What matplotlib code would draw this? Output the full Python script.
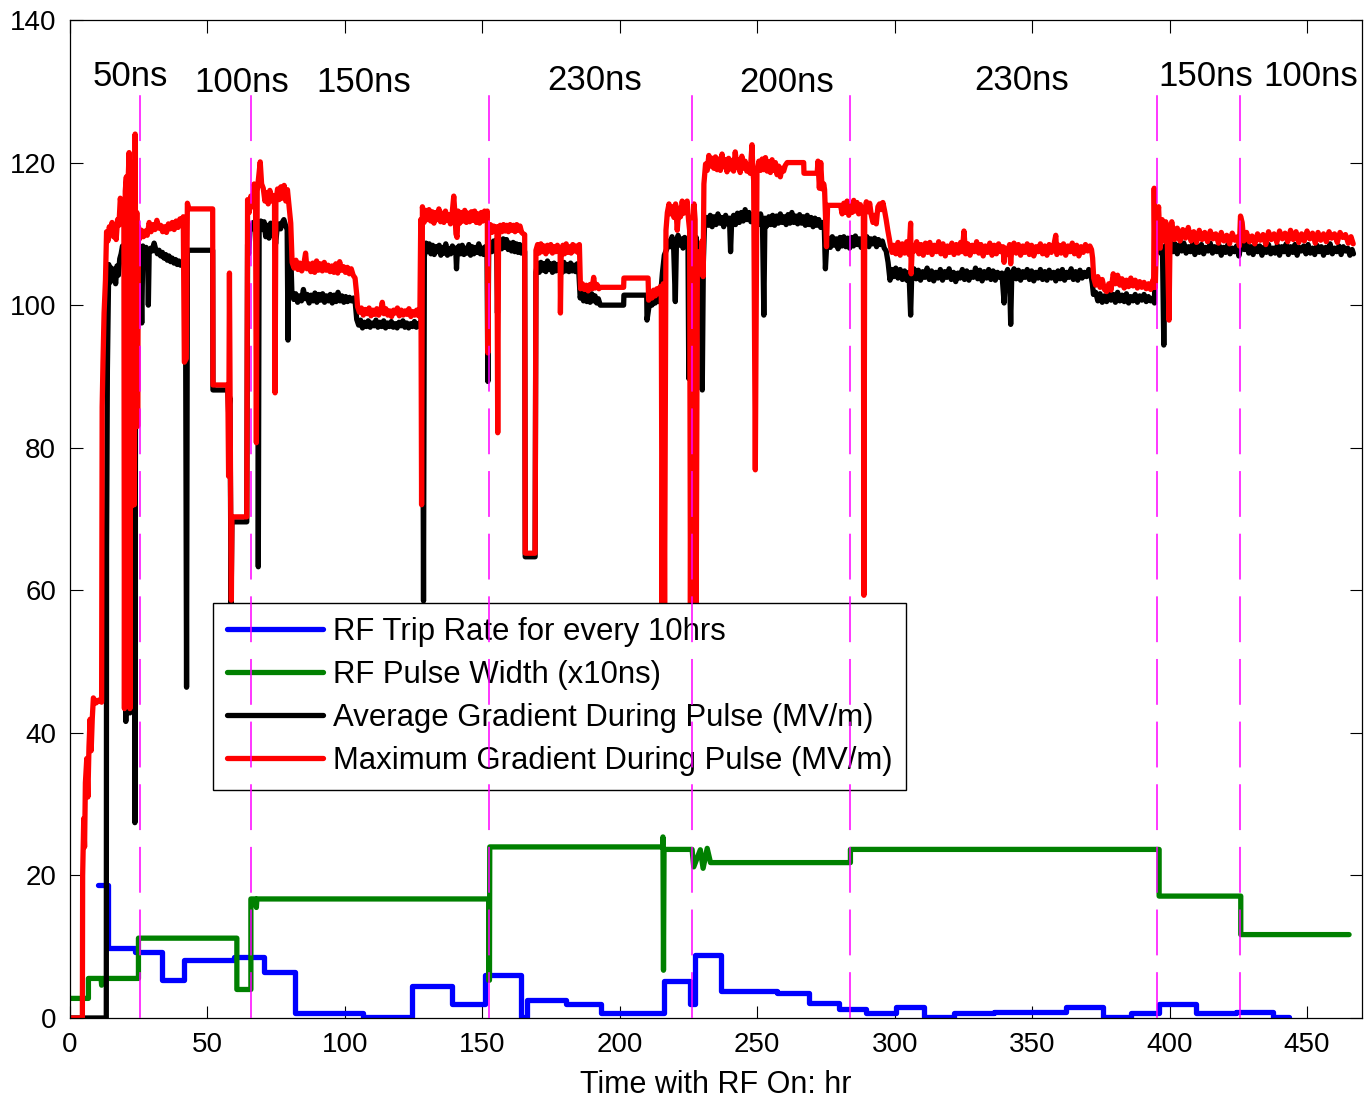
import matplotlib
matplotlib.use("Agg")
import matplotlib.pyplot as plt

plt.rcParams['font.family'] = ['Liberation Sans', 'DejaVu Sans']

# ---------------- data ----------------
# RF trip rate (steps-post): breakpoints (hr) and values
trip_x = [10.3, 13.9, 23.7, 33.4, 41.3, 59.5, 70.4, 81.9, 106.7, 124.4, 138.9, 151.1,
          164.0, 166.2, 180.6, 193.2, 216.0, 225.7, 227.5, 236.9, 257.3, 268.8, 279.7,
          289.4, 300.3, 310.6, 321.6, 336.1, 362.2, 375.6, 385.9, 396.2, 409.5, 424.1,
          437.5, 443.5]
trip_y = [18.7, 9.8, 9.2, 5.4, 8.1, 8.5, 6.5, 0.75, 0.2, 4.5, 1.9, 6.1,
          0.1, 2.5, 1.9, 0.65, 5.2, 1.9, 8.8, 3.8, 3.5, 2.1, 1.2,
          0.65, 1.5, 0.2, 0.65, 0.9, 1.5, 0.2, 0.65, 1.9, 0.65, 0.9,
          0.2, 0.2]

# RF pulse width (x10 ns)
pw_x = [0, 6.7, 6.7, 11.3, 11.5, 11.7, 24.9, 24.9, 60.7, 60.7, 65.8, 65.8, 67.6, 67.8, 68.0,
        152.3, 152.3, 152.6, 152.7, 215.6, 215.7, 215.9, 216.1, 226.3, 226.9, 229.3,
        230.3, 231.8, 233.0, 283.9, 283.9, 396.2, 396.2, 425.9, 425.9, 465.3]
pw_y = [2.75, 2.75, 5.55, 5.55, 4.6, 5.55, 5.55, 11.2, 11.2, 4.0, 4.0, 16.7, 16.7, 15.5, 16.7,
        16.7, 5.3, 5.3, 24.0, 24.0, 25.4, 6.7, 23.65, 23.65, 21.2, 23.6,
        21.0, 23.8, 21.8, 21.8, 23.65, 23.65, 17.1, 17.1, 11.7, 11.7]

# Average gradient during pulse (MV/m)
avg_pts = [
    (0, 0), (13.2, 0), (13.3, 66), (13.6, 90.9), (14.1, 105.7), (14.6, 103.2), (15.1, 105.2),
    (15.6, 103.6), (16.1, 105.0), (16.6, 103.0), (17.1, 105.5), (17.6, 104.2), (18.1, 106.5),
    (18.6, 107.2), (19.1, 108.3), (19.6, 107.0), (20.0, 108.4), (20.3, 41.6), (20.6, 107.8),
    (21.2, 108.5), (21.8, 42.8), (22.1, 107.6), (22.7, 108.2), (23.3, 107.0), (23.6, 27.4),
    (23.9, 107.5), (24.5, 106.8), (25.0, 107.9), (25.6, 108.2), (26.1, 97.5), (26.5, 108.3),
    (27.1, 107.6), (27.7, 108.1), (28.2, 107.4), (28.5, 100.0), (28.8, 107.3), (29.4, 108.0),
    (30.0, 107.6), (30.6, 108.7), (31.2, 107.8), (31.8, 107.2), (32.4, 107.7), (33.0, 106.9),
    (33.6, 107.4), (34.2, 106.6), (34.8, 107.1), (35.4, 106.3), (36.0, 106.9), (36.6, 106.1),
    (37.2, 106.6), (37.8, 105.9), (38.4, 106.4), (39.0, 105.7), (39.6, 106.2), (40.2, 105.6),
    (40.8, 106.0), (41.4, 105.5), (42.0, 105.8), (42.4, 46.4), (42.7, 107.7), (51.9, 107.7),
    (52.0, 88.1), (57.4, 88.1), (57.7, 85), (58.2, 87), (58.6, 58), (58.9, 69.6), (64.3, 69.6),
    (64.6, 108.5), (65.0, 107.2), (65.5, 110.6), (66.1, 110.9), (66.7, 111.6), (67.3, 110.5),
    (67.9, 111.3), (68.3, 110.6), (68.5, 63.3), (68.8, 110.9), (69.4, 111.8), (70.0, 110.6),
    (70.6, 111.7), (71.2, 109.6), (71.8, 111.2), (72.4, 109.4), (73.0, 111.5), (73.6, 110.5),
    (74.2, 111.2), (74.8, 108.6), (75.4, 111.0), (76.0, 111.4), (76.6, 110.7), (77.2, 111.6),
    (77.8, 112.0), (78.4, 111.2), (79.0, 110.6), (79.3, 95.1), (79.6, 110.2), (80.2, 108.5),
    (80.7, 102.0), (81.4, 100.8), (82.1, 101.6), (82.8, 100.4), (83.5, 101.3), (84.2, 100.6),
    (84.9, 102.2), (85.6, 100.9), (86.3, 101.5), (87.0, 100.3), (87.7, 101.4), (88.4, 100.6),
    (89.1, 101.7), (89.8, 100.4), (90.5, 101.5), (91.2, 100.7), (91.9, 101.6), (92.6, 100.4),
    (93.3, 101.3), (94.0, 100.6), (94.7, 101.5), (95.4, 100.3), (96.1, 101.4), (96.8, 100.5),
    (97.5, 101.8), (98.2, 100.6), (98.9, 101.3), (99.6, 100.4), (100.3, 101.2), (101.0, 100.5),
    (101.7, 101.1), (102.4, 100.6), (103.1, 101.0), (103.8, 100.2), (104.3, 98.0), (105.0, 97.2),
    (105.7, 97.9), (106.4, 96.8), (107.1, 97.6), (107.8, 97.0), (108.5, 97.8), (109.2, 96.9),
    (109.9, 97.5), (110.6, 97.1), (111.3, 97.9), (112.0, 96.9), (112.7, 97.6), (113.4, 97.0),
    (114.1, 97.8), (114.8, 96.8), (115.5, 97.5), (116.2, 97.0), (116.9, 97.7), (117.6, 96.9),
    (118.3, 97.4), (119.0, 96.8), (119.7, 97.6), (120.4, 97.1), (121.1, 97.8), (121.8, 96.9),
    (122.5, 97.5), (123.2, 96.8), (123.9, 97.4), (124.6, 97.0), (125.3, 97.7), (126.0, 96.9),
    (126.7, 97.4), (127.3, 97.0), (127.8, 98.0), (128.3, 97.0), (128.6, 58.5), (128.9, 106.8),
    (129.5, 108.7), (130.1, 107.5), (130.7, 108.6), (131.3, 107.2), (131.9, 108.4), (132.5, 107.1),
    (133.1, 108.2), (133.7, 107.5), (134.3, 108.4), (134.9, 107.0), (135.5, 108.1), (136.1, 107.3),
    (136.7, 108.6), (137.3, 107.0), (137.9, 107.9), (138.5, 107.2), (139.1, 108.3), (139.7, 107.4),
    (140.3, 108.0), (140.6, 105.1), (140.9, 107.6), (141.5, 108.3), (142.1, 107.2), (142.7, 108.4),
    (143.3, 107.1), (143.9, 108.0), (144.5, 107.3), (145.1, 108.5), (145.7, 107.0), (146.3, 108.2),
    (146.9, 107.2), (147.5, 108.1), (148.1, 107.4), (148.7, 108.6), (149.3, 107.2), (149.9, 108.0),
    (150.5, 107.1), (151.1, 108.2), (151.7, 107.3), (152.0, 89.3), (152.3, 108.0), (152.9, 108.8),
    (153.5, 107.5), (154.1, 109.0), (154.7, 108.0), (155.2, 109.2), (155.5, 98.9), (155.8, 108.5),
    (156.4, 109.0), (157.0, 107.9), (157.6, 109.3), (158.2, 108.1), (158.8, 109.2), (159.4, 107.8),
    (160.0, 108.7), (160.6, 107.6), (161.2, 108.8), (161.8, 107.5), (162.4, 108.6), (163.0, 107.4),
    (163.6, 108.5), (164.2, 107.3), (164.8, 108.2), (165.4, 107.5), (165.6, 64.7), (169.2, 64.7),
    (169.5, 104.6), (170.1, 105.9), (170.7, 104.6), (171.3, 106.0), (171.9, 104.9), (172.5, 105.8),
    (173.1, 104.7), (173.7, 106.2), (174.3, 105.0), (174.9, 105.8), (175.5, 104.6), (176.1, 105.9),
    (176.7, 104.8), (177.3, 105.7), (177.9, 104.9), (178.5, 105.8), (179.1, 104.6), (179.7, 106.0),
    (180.3, 104.8), (180.9, 105.7), (181.5, 104.7), (182.1, 105.9), (182.7, 104.8), (183.3, 105.6),
    (183.9, 104.7), (184.5, 105.8), (185.1, 104.6), (185.6, 101.0), (186.2, 102.2), (186.8, 100.6),
    (187.4, 101.8), (188.0, 100.5), (188.6, 101.5), (189.2, 100.4), (189.8, 101.6), (190.4, 100.6),
    (191.0, 101.3), (191.6, 100.3), (192.2, 100.9), (192.9, 100.0), (201.4, 100.0), (201.5, 101.4),
    (209.8, 101.4), (209.9, 97.9), (210.5, 99.5), (211.1, 100.6), (211.7, 100.0), (212.3, 100.9),
    (212.9, 100.3), (213.5, 101.0), (214.1, 100.5), (214.8, 101.2), (215.5, 104.5), (216.2, 107.0),
    (217.2, 108.0), (217.8, 109.0), (218.4, 108.2), (219.0, 109.6), (219.6, 108.0), (220.2, 100.5),
    (220.6, 108.6), (221.2, 109.8), (221.8, 108.4), (222.4, 109.3), (223.0, 108.0), (223.6, 109.5),
    (224.2, 108.3), (224.8, 109.0), (225.1, 89.7), (225.4, 108.0), (226.0, 106.5), (226.6, 108.8),
    (227.2, 107.3), (227.8, 109.5), (228.4, 106.0), (229.0, 108.0), (229.6, 105.5), (230.0, 88.1),
    (230.4, 106.0), (230.8, 111.0), (231.5, 112.3), (232.2, 111.2), (232.9, 112.6), (233.6, 111.0),
    (234.3, 112.4), (235.0, 111.3), (235.7, 112.8), (236.4, 111.5), (237.1, 112.3), (237.8, 111.0),
    (238.5, 112.6), (239.2, 111.4), (239.9, 112.2), (240.3, 107.5), (240.7, 111.8), (241.4, 112.6),
    (242.1, 111.3), (242.8, 112.9), (243.5, 111.6), (244.2, 113.0), (244.9, 111.8), (245.6, 113.4),
    (246.3, 112.0), (247.0, 113.0), (247.7, 111.7), (248.4, 112.7), (249.1, 111.5), (249.8, 112.6),
    (250.5, 111.3), (251.2, 112.8), (251.9, 111.6), (252.4, 98.6), (252.8, 112.2), (253.5, 111.1),
    (254.2, 112.4), (254.9, 111.3), (255.6, 112.6), (256.3, 111.2), (257.0, 112.5), (257.7, 111.5),
    (258.4, 112.8), (259.1, 111.6), (259.8, 112.4), (260.5, 111.3), (261.2, 112.7), (261.9, 111.5),
    (262.6, 113.0), (263.3, 111.6), (264.0, 112.5), (264.7, 111.4), (265.4, 112.7), (266.1, 111.5),
    (266.8, 112.4), (267.5, 111.2), (268.2, 112.6), (268.9, 111.3), (269.6, 112.3), (270.3, 111.0),
    (271.0, 112.2), (271.7, 111.2), (272.4, 112.0), (273.1, 110.9), (273.8, 111.6), (274.4, 110.8),
    (274.8, 105.1), (275.2, 108.0), (275.9, 109.4), (276.6, 108.1), (277.3, 109.6), (278.0, 108.4),
    (278.7, 109.3), (279.4, 107.9), (280.1, 109.5), (280.8, 108.3), (281.5, 109.6), (282.2, 108.2),
    (282.9, 109.4), (283.6, 108.0), (284.3, 109.5), (285.0, 108.3), (285.7, 109.7), (286.4, 108.5),
    (287.1, 109.3), (287.8, 108.1), (288.5, 109.5), (289.2, 108.4), (289.9, 109.6), (290.6, 108.2),
    (291.3, 109.3), (292.0, 108.6), (292.7, 109.4), (293.4, 108.2), (294.1, 109.2), (294.8, 108.5),
    (295.5, 109.0), (296.2, 108.0), (296.9, 107.6), (297.6, 106.0), (298.3, 103.5), (299.0, 105.0),
    (299.6, 104.0), (300.4, 105.2), (301.2, 103.8), (302.0, 105.0), (302.8, 103.6), (303.6, 104.8),
    (304.4, 103.5), (305.2, 104.6), (305.8, 98.6), (306.2, 104.2), (307.0, 105.1), (307.8, 103.7),
    (308.6, 104.9), (309.4, 103.5), (310.2, 104.7), (311.0, 103.9), (311.8, 105.2), (312.6, 103.6),
    (313.4, 104.8), (314.2, 103.4), (315.0, 104.6), (315.8, 103.8), (316.6, 105.0), (317.4, 103.5),
    (318.2, 104.7), (319.0, 103.9), (319.8, 105.1), (320.6, 103.6), (321.4, 104.6), (322.2, 103.3),
    (323.0, 104.5), (323.8, 103.8), (324.6, 105.0), (325.4, 103.6), (326.2, 104.8), (327.0, 103.5),
    (327.8, 104.6), (328.6, 103.9), (329.4, 105.2), (330.2, 103.7), (331.0, 104.9), (331.8, 103.4),
    (332.6, 104.7), (333.4, 103.8), (334.2, 105.0), (335.0, 103.6), (335.8, 104.8), (336.6, 103.5),
    (337.4, 104.6), (338.2, 103.9), (339.0, 104.5), (339.8, 100.3), (340.3, 104.2), (341.1, 105.0),
    (341.8, 103.6), (342.2, 97.3), (342.6, 104.3), (343.4, 105.1), (344.2, 103.7), (345.0, 104.9),
    (345.8, 103.5), (346.6, 104.7), (347.4, 103.9), (348.2, 105.0), (349.0, 103.6), (349.8, 104.8),
    (350.6, 103.4), (351.4, 104.6), (352.2, 103.8), (353.0, 105.0), (353.8, 103.6), (354.6, 104.7),
    (355.4, 103.5), (356.2, 104.9), (357.0, 103.8), (357.8, 104.6), (358.6, 103.4), (359.4, 104.8),
    (360.2, 103.7), (361.0, 105.0), (361.8, 103.5), (362.6, 104.6), (363.4, 103.9), (364.2, 105.1),
    (365.0, 103.6), (365.8, 104.7), (366.6, 103.5), (367.4, 104.9), (368.2, 103.8), (369.0, 104.6),
    (369.8, 104.0), (370.6, 105.0), (371.4, 104.2), (371.9, 103.0), (372.3, 101.5), (373.1, 101.8),
    (373.9, 100.6), (374.7, 101.6), (375.5, 100.4), (376.3, 101.3), (377.1, 100.5), (377.9, 101.7),
    (378.7, 100.7), (379.5, 101.5), (380.3, 100.4), (381.1, 101.8), (381.9, 100.6), (382.7, 101.4),
    (383.5, 100.5), (384.3, 101.6), (385.1, 100.3), (385.9, 101.2), (386.7, 100.6), (387.5, 101.5),
    (388.3, 100.4), (389.1, 101.3), (389.9, 100.7), (390.7, 101.5), (391.5, 100.5), (392.3, 101.2),
    (393.1, 100.6), (393.9, 101.0), (394.5, 100.3), (394.8, 108.5), (395.4, 107.5), (396.1, 108.8),
    (396.8, 107.3), (397.4, 108.2), (397.9, 94.4), (398.3, 107.8), (399.0, 108.6), (399.7, 107.4),
    (400.4, 108.8), (401.2, 107.5), (402.0, 108.6), (402.8, 107.2), (403.6, 108.4), (404.4, 107.6),
    (405.2, 108.7), (406.0, 107.3), (406.8, 108.2), (407.6, 107.5), (408.4, 108.6), (409.2, 107.1),
    (410.0, 108.3), (410.8, 107.4), (411.6, 108.5), (412.4, 107.2), (413.2, 108.1), (414.0, 107.6),
    (414.8, 108.7), (415.6, 107.3), (416.4, 108.2), (417.2, 107.5), (418.0, 108.4), (418.8, 107.0),
    (419.6, 108.1), (420.4, 107.4), (421.2, 108.5), (422.0, 107.2), (422.8, 108.0), (423.6, 107.5),
    (424.4, 108.3), (425.2, 106.9), (425.8, 108.0), (426.5, 109.3), (427.2, 107.8), (428.0, 108.6),
    (428.8, 107.3), (429.6, 108.2), (430.4, 107.1), (431.2, 108.4), (432.0, 107.5), (432.8, 108.3),
    (433.6, 107.0), (434.4, 108.1), (435.2, 107.4), (436.0, 108.5), (436.8, 107.2), (437.6, 108.0),
    (438.4, 107.3), (439.2, 108.4), (440.0, 107.0), (440.8, 108.2), (441.6, 107.5), (442.4, 108.6),
    (443.2, 107.1), (444.0, 108.2), (444.8, 107.4), (445.6, 108.5), (446.4, 107.0), (447.2, 108.1),
    (448.0, 107.6), (448.8, 108.3), (449.6, 107.2), (450.4, 108.5), (451.2, 107.3), (452.0, 108.0),
    (452.8, 107.1), (453.6, 108.4), (454.4, 107.5), (455.2, 108.2), (456.0, 107.0), (456.8, 108.1),
    (457.6, 107.4), (458.4, 108.6), (459.2, 107.2), (460.0, 108.0), (460.8, 107.5), (461.6, 108.3),
    (462.4, 107.1), (463.2, 108.2), (464.0, 107.6), (464.8, 108.0), (465.6, 107.0), (466.4, 107.8),
    (466.9, 107.2),
]

# Maximum gradient during pulse (MV/m)
max_pts = [
    (0, 0), (4.5, 0), (4.6, 20), (5.0, 28), (5.3, 24), (5.6, 33), (6.1, 36.4), (6.5, 31), (6.9, 38),
    (7.3, 41.9), (7.7, 37.5), (8.1, 42), (8.5, 44.9), (9.5, 44.2), (10.5, 44.6), (11.5, 44.3),
    (11.7, 85.7), (12.0, 92), (12.4, 98.9), (12.9, 103.5), (13.3, 110.3), (13.8, 109), (14.3, 111),
    (14.8, 110), (15.3, 111.6), (15.8, 109.6), (16.3, 110.8), (16.8, 109.2), (17.3, 112), (17.8, 111.2),
    (18.3, 115), (18.8, 113.5), (19.3, 114.5), (19.6, 113), (19.8, 43.4), (20.1, 116), (20.5, 118),
    (20.8, 44), (21.1, 117), (21.5, 121.4), (21.8, 43.4), (22.1, 118), (22.4, 71.8), (22.8, 120),
    (23.2, 116), (23.4, 72), (23.7, 124), (24.0, 84), (24.3, 113), (24.6, 83), (24.9, 111),
    (25.3, 109.3), (26.0, 110.5), (26.7, 109.6), (27.4, 110.4), (28.1, 109.8), (28.8, 111.6),
    (29.5, 110.3), (30.2, 111.3), (30.9, 110.6), (31.6, 111.9), (32.3, 110.8), (33.0, 111.2),
    (33.7, 110.3), (34.4, 111.0), (35.1, 110.2), (35.8, 111.4), (36.5, 110.7), (37.2, 111.6),
    (37.9, 110.6), (38.6, 111.8), (39.3, 110.9), (40.0, 112.1), (40.6, 111.3), (41.2, 112.4),
    (41.6, 92), (42.3, 92.5), (42.7, 114.3), (43.3, 113.5), (51.9, 113.5), (52.0, 88.8), (57.4, 88.8),
    (57.7, 76), (58.0, 104.5), (58.4, 75), (58.7, 58.6), (58.9, 70.3), (64.3, 70.3), (64.6, 114.8),
    (65.2, 113), (65.8, 115.3), (66.4, 113.8), (67.0, 117), (67.5, 115.6), (67.8, 80.7), (68.1, 116),
    (68.7, 118.2), (69.2, 120.1), (69.7, 117), (70.3, 116.4), (70.9, 114.6), (71.5, 115.8),
    (72.1, 114.2), (72.7, 116.1), (73.3, 114.6), (73.9, 115.4), (74.4, 114.3), (74.6, 87.7),
    (74.9, 114.5), (75.5, 116.3), (76.1, 114.8), (76.7, 116.6), (77.3, 115), (77.9, 116.8),
    (78.5, 114.6), (79.1, 116.2), (79.7, 113.8), (80.3, 111.5), (80.8, 106), (81.5, 105.2),
    (82.2, 106.3), (82.9, 105.0), (83.6, 105.9), (84.3, 104.8), (85.0, 105.6), (85.7, 107.3),
    (86.2, 105.1), (86.9, 105.8), (87.6, 104.7), (88.3, 105.9), (89.0, 104.6), (89.7, 106.2),
    (90.4, 104.9), (91.1, 105.8), (91.8, 104.8), (92.5, 106.0), (93.2, 104.9), (93.9, 105.6),
    (94.6, 104.7), (95.3, 105.5), (96.0, 104.6), (96.7, 105.8), (97.4, 104.5), (98.1, 106.1),
    (98.8, 104.9), (99.5, 105.4), (100.2, 104.6), (100.9, 105.3), (101.6, 104.4), (102.3, 105.1),
    (103.0, 104.2), (103.7, 103.8), (104.3, 101.5), (104.6, 99.8), (105.3, 99.0), (106.0, 99.6),
    (106.7, 98.6), (107.4, 99.4), (108.1, 98.8), (108.8, 99.6), (109.5, 98.5), (110.2, 99.3),
    (110.9, 98.7), (111.6, 99.5), (112.3, 98.6), (113.0, 99.2), (113.6, 100.4), (114.2, 98.8),
    (114.9, 99.5), (115.6, 98.6), (116.3, 99.2), (117.0, 98.4), (117.7, 99.3), (118.4, 98.9),
    (119.1, 99.6), (119.8, 98.5), (120.5, 99.3), (121.2, 98.6), (121.9, 99.2), (122.6, 98.7),
    (123.3, 99.5), (124.0, 98.4), (124.7, 99.1), (125.4, 98.6), (126.1, 99.3), (126.8, 98.5),
    (127.3, 99.6), (127.6, 112), (127.9, 72), (128.2, 113.8), (128.8, 111.6), (129.4, 113.3),
    (130.0, 112.0), (130.6, 113.4), (131.2, 111.8), (131.8, 113.1), (132.4, 111.5), (133.0, 113.0),
    (133.6, 112.0), (134.2, 113.5), (134.8, 111.7), (135.4, 112.9), (136.0, 111.6), (136.6, 113.2),
    (137.2, 111.9), (137.8, 112.7), (138.4, 111.4), (139.0, 112.8), (139.6, 115.3), (140.1, 112.4),
    (140.4, 110), (140.8, 109.5), (141.2, 113.2), (141.8, 111.5), (142.4, 113.0), (143.0, 111.8),
    (143.6, 113.3), (144.2, 111.6), (144.8, 112.9), (145.4, 111.7), (146.0, 113.1), (146.6, 111.9),
    (147.2, 113.2), (147.8, 111.6), (148.4, 112.8), (149.0, 111.5), (149.6, 113.0), (150.2, 111.8),
    (150.8, 113.2), (151.4, 112.0), (151.8, 113.2), (152.0, 93.3), (152.3, 111.0), (152.9, 111.3),
    (153.5, 110.2), (154.1, 111.1), (154.7, 110.4), (155.3, 111.0), (155.6, 82.1), (155.9, 110.5),
    (156.5, 111.2), (157.1, 110.3), (157.7, 111.3), (158.3, 110.4), (158.9, 111.2), (159.5, 110.3),
    (160.1, 111.3), (160.7, 110.5), (161.3, 111.2), (161.9, 110.3), (162.5, 111.3), (163.1, 110.5),
    (163.7, 111.1), (164.3, 110.2), (164.9, 110.0), (165.4, 109.9), (165.6, 65.2), (169.2, 65.2),
    (169.5, 107.7), (170.1, 108.5), (170.7, 107.3), (171.3, 108.6), (171.9, 107.5), (172.5, 108.3),
    (173.1, 107.2), (173.7, 108.4), (174.3, 107.6), (174.9, 108.5), (175.5, 107.3), (176.1, 108.2),
    (176.7, 107.5), (177.3, 108.4), (177.9, 107.6), (178.3, 108.0), (178.4, 98.9), (178.7, 107.5),
    (179.3, 108.4), (179.9, 107.2), (180.5, 108.6), (181.1, 107.4), (181.7, 108.2), (182.3, 107.3),
    (182.9, 108.5), (183.5, 107.6), (184.1, 108.3), (184.7, 107.4), (185.3, 108.5), (185.7, 102.3),
    (186.4, 103.0), (187.1, 102.2), (187.8, 102.8), (188.5, 102.0), (189.2, 102.9), (189.9, 102.3),
    (190.5, 103.9), (191.0, 102.4), (191.7, 102.9), (192.4, 102.3), (192.9, 102.5), (201.4, 102.5),
    (201.5, 103.8), (210.3, 103.8), (210.5, 100.7), (211.1, 101.8), (211.7, 101.0), (212.3, 102.1),
    (212.9, 101.3), (213.5, 102.3), (214.1, 101.6), (214.7, 102.6), (215.1, 102.0), (215.4, 58.0),
    (215.8, 103.0), (216.3, 58.0), (216.8, 110.5), (217.3, 113.0), (217.9, 114.2), (218.5, 112.8),
    (219.1, 113.8), (219.7, 112.3), (220.3, 114.2), (220.9, 110.5), (221.5, 113.6), (222.1, 112.4),
    (222.7, 114.6), (223.3, 112.9), (223.9, 113.9), (224.5, 114.6), (225.0, 112.0), (225.4, 110.5),
    (225.7, 58.0), (226.1, 106.0), (226.6, 110.5), (227.0, 114.2), (227.4, 112.0), (227.8, 58.0),
    (228.2, 104.0), (228.8, 107.5), (229.4, 105.0), (229.9, 109.0), (230.3, 104.0), (230.6, 117.0),
    (231.2, 119.8), (231.8, 118.9), (232.4, 121.0), (233.0, 119.5), (233.6, 120.6), (234.2, 119.2),
    (234.8, 120.8), (235.4, 119.0), (236.0, 120.5), (236.6, 118.9), (237.2, 121.2), (237.8, 119.4),
    (238.4, 120.4), (239.0, 118.7), (239.6, 120.6), (240.2, 119.1), (240.8, 120.3), (241.4, 118.8),
    (242.0, 121.5), (242.6, 119.3), (243.2, 120.4), (243.8, 118.6), (244.4, 120.9), (245.0, 119.2),
    (245.6, 120.2), (246.2, 118.8), (246.8, 119.6), (247.4, 118.5), (248.1, 122.5), (248.4, 119.0),
    (248.7, 117.5), (249.3, 76.9), (249.9, 118.6), (250.6, 120.2), (251.2, 118.9), (251.8, 120.5),
    (252.4, 119.0), (253.0, 120.7), (253.6, 118.8), (254.2, 120.1), (254.8, 118.6), (255.4, 120.4),
    (256.0, 118.9), (256.6, 120.0), (257.2, 118.3), (257.8, 119.5), (258.4, 118.0), (259.0, 119.2),
    (259.6, 118.8), (260.2, 119.6), (260.9, 120.0), (266.9, 120.0), (267.0, 118.5), (271.8, 118.5),
    (272.1, 120.2), (272.6, 116.4), (273.1, 120.0), (273.6, 116.3), (274.2, 117.0), (274.5, 116.2),
    (275.2, 108.2), (275.6, 114.0), (280.3, 114.0), (280.9, 112.8), (281.5, 114.3), (282.1, 113.0),
    (282.7, 114.6), (283.3, 112.6), (283.9, 114.0), (284.5, 113.0), (285.1, 114.7), (285.7, 113.2),
    (286.3, 114.4), (286.9, 112.8), (287.5, 114.1), (288.1, 113.0), (288.6, 113.6), (288.8, 59.3),
    (289.1, 113.2), (289.7, 114.5), (290.3, 113.1), (290.9, 114.3), (291.5, 112.6), (292.1, 111.6),
    (292.7, 112.6), (293.3, 111.4), (293.9, 113.8), (294.5, 114.2), (295.1, 113.4), (295.7, 114.4),
    (296.3, 113.3), (296.9, 112.0), (297.5, 110.5), (298.1, 109.2), (298.6, 108.0), (299.0, 107.4),
    (299.6, 108.4), (300.4, 107.2), (301.2, 108.8), (302.0, 107.0), (302.8, 108.6), (303.6, 107.3),
    (304.4, 108.9), (305.2, 107.1), (305.8, 111.5), (306.0, 104.4), (306.4, 108.3), (307.2, 107.6),
    (308.0, 108.9), (308.8, 107.2), (309.6, 108.5), (310.4, 107.0), (311.2, 108.7), (312.0, 107.4),
    (312.8, 108.8), (313.6, 107.1), (314.4, 108.4), (315.2, 107.5), (316.0, 108.9), (316.8, 107.2),
    (317.6, 108.6), (318.4, 106.9), (319.2, 108.3), (320.0, 107.4), (320.8, 108.7), (321.6, 107.1),
    (322.4, 108.5), (323.2, 107.3), (324.0, 108.8), (324.6, 107.5), (325.2, 110.4), (325.8, 107.2),
    (326.6, 108.6), (327.4, 107.0), (328.2, 108.4), (329.0, 107.5), (329.8, 108.9), (330.6, 107.3),
    (331.4, 108.5), (332.2, 106.9), (333.0, 108.3), (333.8, 107.4), (334.6, 108.7), (335.4, 107.0),
    (336.2, 108.4), (337.0, 107.2), (337.8, 108.6), (338.6, 107.5), (339.4, 108.2), (339.8, 106.0),
    (340.2, 108.0), (341.0, 107.1), (341.8, 108.5), (342.2, 105.8), (342.6, 107.9), (343.4, 108.7),
    (344.2, 107.3), (345.0, 108.5), (345.8, 107.0), (346.6, 108.3), (347.4, 107.4), (348.2, 108.6),
    (349.0, 107.1), (349.8, 108.4), (350.6, 106.9), (351.4, 108.2), (352.2, 107.5), (353.0, 108.6),
    (353.8, 107.2), (354.6, 108.3), (355.4, 107.0), (356.2, 108.5), (357.0, 107.4), (357.8, 108.2),
    (358.6, 109.8), (359.0, 107.1), (359.8, 108.4), (360.6, 107.3), (361.4, 108.6), (362.2, 107.0),
    (363.0, 108.3), (363.8, 107.5), (364.6, 108.7), (365.4, 107.2), (366.2, 108.4), (367.0, 106.9),
    (367.8, 108.2), (368.6, 107.4), (369.4, 108.5), (370.2, 107.6), (371.0, 108.3), (371.6, 107.8),
    (372.0, 106.6), (372.4, 103.8), (373.1, 102.8), (373.9, 104.0), (374.7, 102.5), (375.5, 103.6),
    (376.3, 102.2), (377.1, 101.9), (377.9, 103.0), (378.7, 102.1), (379.5, 104.4), (380.3, 103.0),
    (381.1, 104.2), (381.9, 102.8), (382.7, 103.7), (383.5, 102.4), (384.3, 103.5), (385.1, 102.6),
    (385.9, 103.8), (386.7, 102.7), (387.5, 103.5), (388.3, 102.4), (389.1, 103.3), (389.9, 102.5),
    (390.7, 103.2), (391.5, 102.3), (392.3, 103.0), (393.1, 102.2), (393.9, 103.5), (394.2, 102.5),
    (394.4, 116.4), (394.8, 102.5), (395.3, 110.5), (396.0, 113.8), (396.6, 108.0), (397.3, 112.0),
    (398.0, 109.0), (398.6, 111.7), (399.2, 108.5), (399.8, 97.9), (400.2, 110.5), (400.8, 111.7),
    (401.8, 109.2), (402.8, 110.8), (403.8, 109.0), (404.8, 110.6), (405.8, 109.4), (406.8, 110.9),
    (407.8, 109.0), (408.8, 110.3), (409.8, 108.8), (410.8, 110.5), (411.8, 109.2), (412.8, 110.2),
    (413.8, 108.9), (414.8, 110.4), (415.8, 109.3), (416.8, 110.0), (417.8, 108.7), (418.8, 110.2),
    (419.8, 109.0), (420.8, 109.8), (421.8, 108.6), (422.8, 110.1), (423.8, 109.1), (424.8, 109.6),
    (425.4, 108.3), (425.8, 112.5), (426.4, 111.6), (427.0, 109.0), (428.0, 110.2), (429.0, 108.9),
    (430.0, 109.7), (431.0, 108.6), (432.0, 110.0), (433.0, 109.1), (434.0, 109.9), (435.0, 108.5),
    (436.0, 110.3), (437.0, 109.2), (438.0, 110.0), (439.0, 108.8), (440.0, 110.4), (441.0, 109.3),
    (442.0, 110.1), (443.0, 108.9), (444.0, 110.5), (445.0, 109.2), (446.0, 110.3), (447.0, 108.8),
    (448.0, 110.0), (449.0, 109.0), (450.0, 110.4), (451.0, 109.3), (452.0, 110.1), (453.0, 108.7),
    (454.0, 110.2), (455.0, 109.1), (456.0, 110.0), (457.0, 108.9), (458.0, 110.3), (459.0, 109.4),
    (460.0, 110.0), (461.0, 108.8), (462.0, 110.2), (463.0, 109.5), (464.0, 109.9), (465.0, 108.7),
    (466.0, 109.6), (466.8, 108.6),
]

# pulse-width change markers and labels
change_x = [25.4, 65.9, 152.5, 226.3, 283.9, 395.3, 425.6]
label_x = [22.1, 62.5, 106.8, 190.9, 260.6, 346.3, 413.1, 451.3]
label_y = [130.7, 129.95, 129.95, 130.2, 129.95, 130.2, 130.7, 130.7]
label_txt = ['50ns', '100ns', '150ns', '230ns', '200ns', '230ns', '150ns', '100ns']

series_labels = ['RF Trip Rate for every 10hrs', 'RF Pulse Width (x10ns)',
                 'Average Gradient During Pulse (MV/m)', 'Maximum Gradient During Pulse (MV/m)']

# ---------------- plot ----------------
W, H = 1365, 1099
fig = plt.figure(figsize=(W / 100, H / 100), dpi=100)
ax = fig.add_axes([70 / W, 81 / H, 1292 / W, 998 / H])

lw = 3.8
ax.plot(trip_x, trip_y, color='#0000ff', lw=lw, drawstyle='steps-post',
        solid_joinstyle='round', solid_capstyle='round', label=series_labels[0])
ax.plot(pw_x, pw_y, color='#008000', lw=lw, solid_joinstyle='round',
        solid_capstyle='round', label=series_labels[1])
ax.plot([p[0] for p in avg_pts], [p[1] for p in avg_pts], color='black', lw=lw,
        solid_joinstyle='round', solid_capstyle='round', label=series_labels[2])
ax.plot([p[0] for p in max_pts], [p[1] for p in max_pts], color='#ff0000', lw=lw,
        solid_joinstyle='round', solid_capstyle='round', label=series_labels[3])

for xv in change_x:
    ax.plot([xv, xv], [0, 130.5], color='#ff00ff', lw=1.1, dashes=(30, 11), zorder=6)

for x, y, s in zip(label_x, label_y, label_txt):
    ax.text(x, y, s, ha='center', va='baseline', fontsize=25)

ax.set_xlim(0, 470)
ax.set_ylim(0, 140)
ax.set_xticks(range(0, 451, 50))
ax.set_yticks(range(0, 141, 20))
ax.tick_params(direction='in', length=9, width=0.8, top=True, right=True,
               labelsize=20, pad=10)
for sp in ax.spines.values():
    sp.set_linewidth(0.9)
ax.set_xlabel('Time with RF On: hr', fontsize=22, labelpad=9)

leg = ax.legend(loc='upper left', bbox_to_anchor=(0.1107, 0.4158), borderaxespad=0,
                fontsize=22.4, handlelength=3.1, handletextpad=0.3, labelspacing=0.42,
                borderpad=0.45, fancybox=False, edgecolor='black', framealpha=1)
leg.get_frame().set_linewidth(1.0)

fig.savefig('out.png', dpi=100)
